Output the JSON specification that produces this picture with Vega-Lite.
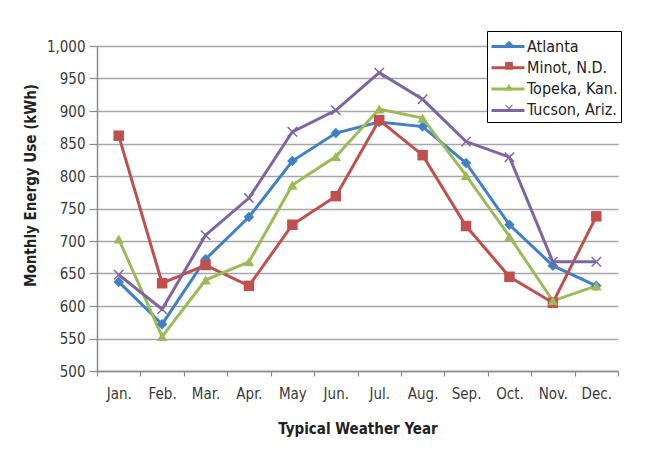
{
  "$schema": "https://vega.github.io/schema/vega-lite/v6.json",
  "width": 521,
  "height": 325,
  "autosize": {"type": "none"},
  "padding": {"left": 97, "top": 46, "right": 27, "bottom": 89},
  "background": "white",
  "config": {
    "font": "DejaVu Sans Condensed",
    "view": {"stroke": null},
    "axis": {
      "labelFont": "DejaVu Sans Condensed",
      "titleFont": "DejaVu Sans Condensed",
      "labelFontSize": 15,
      "labelColor": "#3a3a3a",
      "titleFontSize": 15,
      "titleColor": "#222222",
      "titleFontWeight": "bold",
      "tickColor": "#8a8a8a",
      "domainColor": "#8a8a8a",
      "domainWidth": 1.5,
      "tickWidth": 1.2,
      "gridColor": "#a6a6a6",
      "gridWidth": 1.5
    }
  },
  "data": {
    "values": [
      {"month": "Jan.", "city": "Atlanta", "kwh": 637},
      {"month": "Feb.", "city": "Atlanta", "kwh": 572},
      {"month": "Mar.", "city": "Atlanta", "kwh": 672},
      {"month": "Apr.", "city": "Atlanta", "kwh": 737},
      {"month": "May", "city": "Atlanta", "kwh": 823},
      {"month": "Jun.", "city": "Atlanta", "kwh": 866},
      {"month": "Jul.", "city": "Atlanta", "kwh": 883},
      {"month": "Aug.", "city": "Atlanta", "kwh": 876},
      {"month": "Sep.", "city": "Atlanta", "kwh": 820},
      {"month": "Oct.", "city": "Atlanta", "kwh": 725},
      {"month": "Nov.", "city": "Atlanta", "kwh": 662},
      {"month": "Dec.", "city": "Atlanta", "kwh": 631},
      {"month": "Jan.", "city": "Minot, N.D.", "kwh": 862},
      {"month": "Feb.", "city": "Minot, N.D.", "kwh": 635},
      {"month": "Mar.", "city": "Minot, N.D.", "kwh": 663},
      {"month": "Apr.", "city": "Minot, N.D.", "kwh": 631},
      {"month": "May", "city": "Minot, N.D.", "kwh": 725},
      {"month": "Jun.", "city": "Minot, N.D.", "kwh": 769},
      {"month": "Jul.", "city": "Minot, N.D.", "kwh": 886},
      {"month": "Aug.", "city": "Minot, N.D.", "kwh": 832},
      {"month": "Sep.", "city": "Minot, N.D.", "kwh": 723},
      {"month": "Oct.", "city": "Minot, N.D.", "kwh": 645},
      {"month": "Nov.", "city": "Minot, N.D.", "kwh": 605},
      {"month": "Dec.", "city": "Minot, N.D.", "kwh": 738},
      {"month": "Jan.", "city": "Topeka, Kan.", "kwh": 703},
      {"month": "Feb.", "city": "Topeka, Kan.", "kwh": 553},
      {"month": "Mar.", "city": "Topeka, Kan.", "kwh": 640},
      {"month": "Apr.", "city": "Topeka, Kan.", "kwh": 668},
      {"month": "May", "city": "Topeka, Kan.", "kwh": 786},
      {"month": "Jun.", "city": "Topeka, Kan.", "kwh": 830},
      {"month": "Jul.", "city": "Topeka, Kan.", "kwh": 903},
      {"month": "Aug.", "city": "Topeka, Kan.", "kwh": 889},
      {"month": "Sep.", "city": "Topeka, Kan.", "kwh": 801},
      {"month": "Oct.", "city": "Topeka, Kan.", "kwh": 707},
      {"month": "Nov.", "city": "Topeka, Kan.", "kwh": 608},
      {"month": "Dec.", "city": "Topeka, Kan.", "kwh": 631},
      {"month": "Jan.", "city": "Tucson, Ariz.", "kwh": 648},
      {"month": "Feb.", "city": "Tucson, Ariz.", "kwh": 595},
      {"month": "Mar.", "city": "Tucson, Ariz.", "kwh": 709},
      {"month": "Apr.", "city": "Tucson, Ariz.", "kwh": 766},
      {"month": "May", "city": "Tucson, Ariz.", "kwh": 868},
      {"month": "Jun.", "city": "Tucson, Ariz.", "kwh": 901},
      {"month": "Jul.", "city": "Tucson, Ariz.", "kwh": 959},
      {"month": "Aug.", "city": "Tucson, Ariz.", "kwh": 918},
      {"month": "Sep.", "city": "Tucson, Ariz.", "kwh": 853},
      {"month": "Oct.", "city": "Tucson, Ariz.", "kwh": 829},
      {"month": "Nov.", "city": "Tucson, Ariz.", "kwh": 668},
      {"month": "Dec.", "city": "Tucson, Ariz.", "kwh": 668}
    ]
  },
  "encoding": {
    "x": {
      "field": "month",
      "type": "ordinal",
      "sort": ["Jan.", "Feb.", "Mar.", "Apr.", "May", "Jun.", "Jul.", "Aug.", "Sep.", "Oct.", "Nov.", "Dec."],
      "scale": {"type": "band", "paddingInner": 0, "paddingOuter": 0},
      "axis": {
        "title": "Typical Weather Year",
        "labelAngle": 0,
        "tickBand": "extent",
        "tickSize": 5,
        "labelPadding": 10,
        "titlePadding": 20,
        "grid": false
      }
    },
    "y": {
      "field": "kwh",
      "type": "quantitative",
      "scale": {"domain": [500, 1000], "nice": false, "zero": false},
      "axis": {
        "title": "Monthly Energy Use (kWh)",
        "values": [500, 550, 600, 650, 700, 750, 800, 850, 900, 950, 1000],
        "format": ",d",
        "tickSize": 8,
        "labelPadding": 4,
        "titlePadding": 8,
        "titleY": 139,
        "grid": true
      }
    }
  },
  "layer": [
    {
      "mark": {"type": "line", "strokeWidth": 3},
      "encoding": {
        "stroke": {
          "field": "city",
          "type": "nominal",
          "scale": {
            "domain": ["Atlanta", "Minot, N.D.", "Topeka, Kan.", "Tucson, Ariz."],
            "range": ["#4080c8", "#c0504d", "#9bbb59", "#8064a2"]
          },
          "legend": {
            "orient": "none",
            "legendX": 390,
            "legendY": -15,
            "title": null,
            "symbolType": "M-1,0L2,0",
            "symbolSize": 484,
            "symbolStrokeWidth": 3,
            "labelFont": "DejaVu Sans Condensed",
            "labelFontSize": 16,
            "labelColor": "#222222",
            "labelOffset": 12,
            "rowPadding": 0.3,
            "padding": 3,
            "strokeColor": "#000000",
            "fillColor": "#ffffff",
            "zindex": 0
          }
        }
      }
    },
    {
      "mark": {"type": "point", "filled": true, "size": 110, "opacity": 1},
      "encoding": {
        "color": {
          "field": "city",
          "type": "nominal",
          "scale": {"range": ["#4080c8", "#c0504d", "#9bbb59", "#8064a2"]},
          "legend": {
            "orient": "none",
            "legendX": 405,
            "legendY": -8.5,
            "title": null,
            "symbolSize": 60,
            "symbolStrokeWidth": 0,
            "labelExpr": "''",
            "labelFontSize": 1,
            "rowPadding": 13.3,
            "padding": 3,
            "zindex": 1
          }
        },
        "shape": {
          "field": "city",
          "type": "nominal",
          "scale": {"range": ["diamond", "square", "triangle-up", "M0.2,0L1,0.8L0.8,1L0,0.2L-0.8,1L-1,0.8L-0.2,0L-1,-0.8L-0.8,-1L0,-0.2L0.8,-1L1,-0.8Z"]},
          "legend": {
            "orient": "none",
            "legendX": 405,
            "legendY": -8.5,
            "title": null,
            "symbolSize": 60,
            "symbolStrokeWidth": 0,
            "labelExpr": "''",
            "labelFontSize": 1,
            "rowPadding": 13.3,
            "padding": 3,
            "zindex": 1
          }
        }
      }
    }
  ]
}
